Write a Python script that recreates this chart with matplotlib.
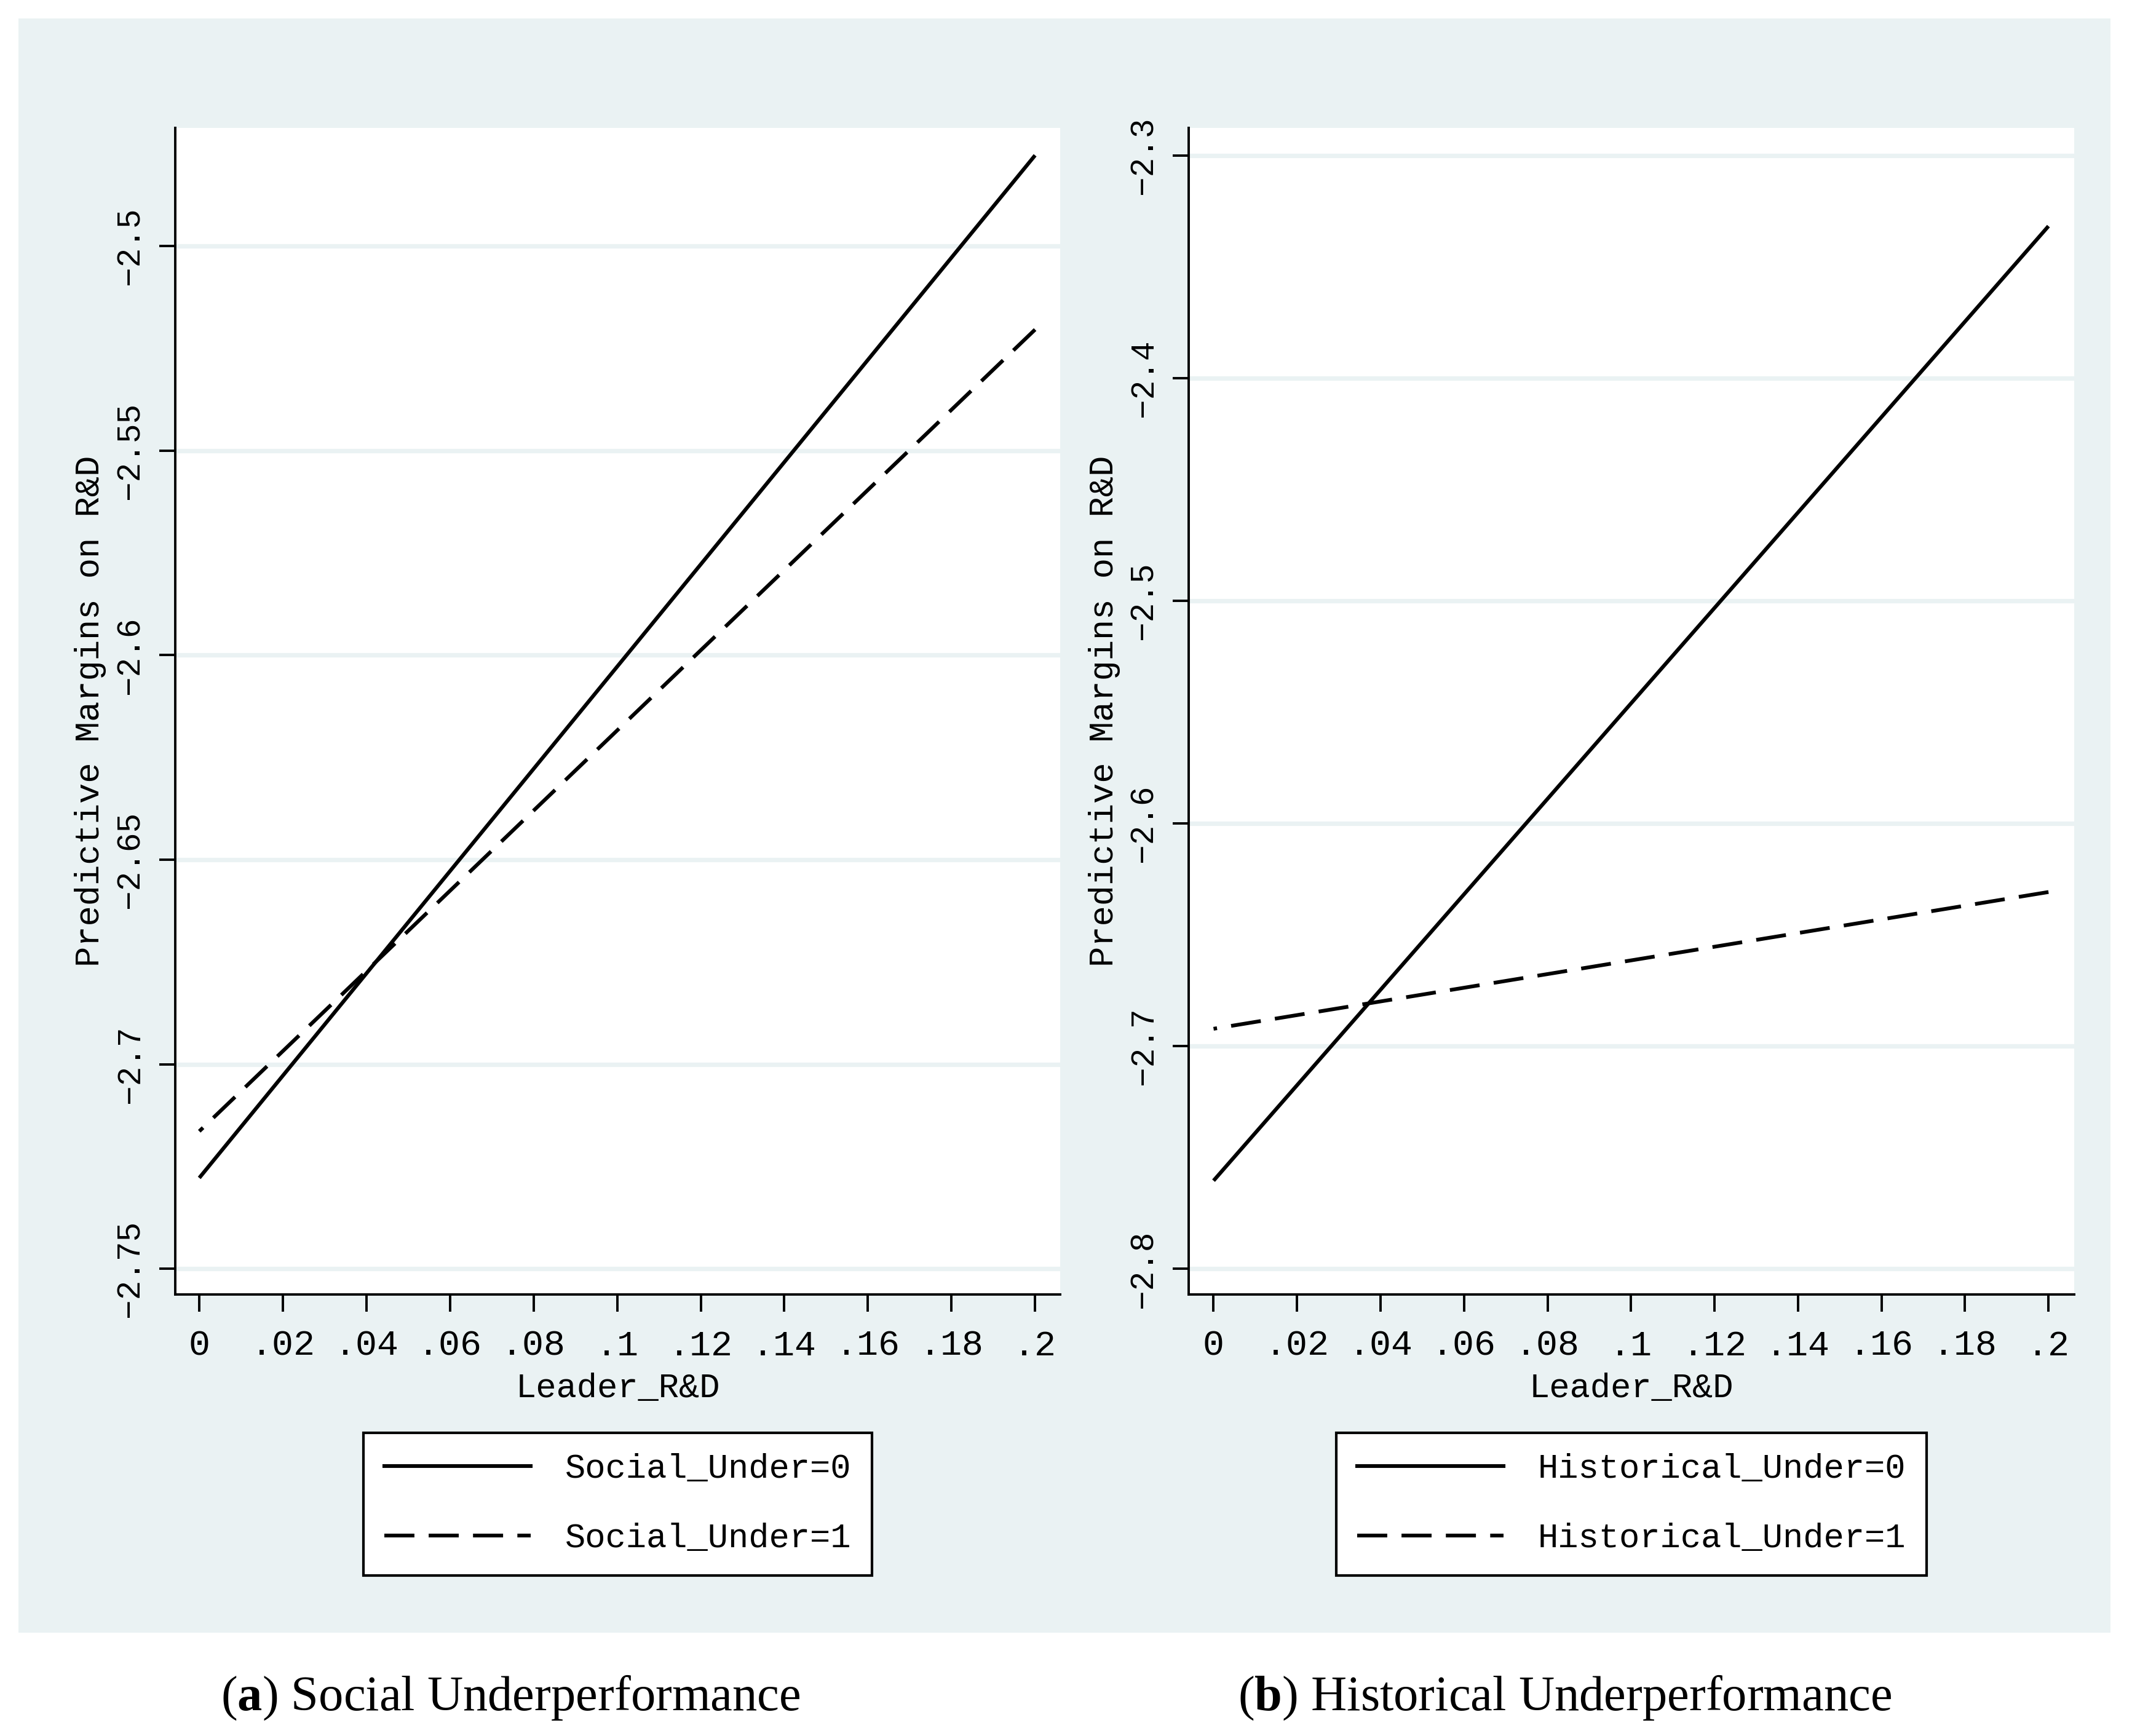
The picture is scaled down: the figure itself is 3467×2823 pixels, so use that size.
import matplotlib
matplotlib.use("Agg")
import matplotlib.pyplot as plt
from matplotlib.patches import Rectangle
from matplotlib.lines import Line2D

# --- data ---
x_pts = [0.0, 0.2]
social_under0 = [-2.7278, -2.4778]
social_under1 = [-2.7164, -2.5204]
hist_under0 = [-2.7604, -2.3318]
hist_under1 = [-2.6922, -2.6308]

x_ticks = [0, .02, .04, .06, .08, .1, .12, .14, .16, .18, .2]
x_ticklabels = ["0", ".02", ".04", ".06", ".08", ".1", ".12", ".14", ".16", ".18", ".2"]
yticks_a = [-2.75, -2.7, -2.65, -2.6, -2.55, -2.5]
yticks_b = [-2.8, -2.7, -2.6, -2.5, -2.4, -2.3]

W, H = 3467, 2823
DPI = 200
BG = "#EAF2F3"
MONO = ["Liberation Mono", "DejaVu Sans Mono"]
LW = 2.2
DASH = (8, 3.8)

plt.rcParams["mathtext.fontset"] = "custom"
plt.rcParams["mathtext.rm"] = "Liberation Serif"
plt.rcParams["mathtext.bf"] = "Liberation Serif:bold"

fig = plt.figure(figsize=(W / DPI, H / DPI), dpi=DPI)
fig.patch.set_facecolor("white")

# light blue graph region (behind everything)
fig.patches.append(Rectangle((30 / W, 1 - 2655 / H), (3432 - 30) / W, (2655 - 30) / H,
                             transform=fig.transFigure, facecolor=BG, edgecolor="none", zorder=-10))


def px_axes(x0, x1, ytop, ybot):
    return fig.add_axes([x0 / W, 1 - ybot / H, (x1 - x0) / W, (ybot - ytop) / H])


def style_panel(ax, yticks, ylim, xlim, ylab_x):
    ax.set_facecolor("white")
    ax.set_xlim(*xlim)
    ax.set_ylim(*ylim)
    for s in ["top", "right"]:
        ax.spines[s].set_visible(False)
    for s in ["left", "bottom"]:
        ax.spines[s].set_linewidth(1.4)
        ax.spines[s].set_color("black")
    ax.set_axisbelow(True)
    ax.yaxis.grid(True, color=BG, lw=2.6)
    ax.xaxis.grid(False)
    ax.set_xticks(x_ticks, x_ticklabels, family=MONO, fontsize=21)
    ylabels = ["\u2212" + f"{abs(v):g}" for v in yticks]
    ax.set_yticks(yticks, ylabels, family=MONO, fontsize=19, rotation=90, va="center")
    ax.tick_params(axis="x", length=10, width=1.4, pad=10.4)
    ax.tick_params(axis="y", length=9.4, width=1.4, pad=7.9)
    ax.set_xlabel("Leader_R&D", family=MONO, fontsize=20, va="center")
    ax.xaxis.set_label_coords(0.5, -0.0807)
    ax.set_ylabel("Predictive Margins on R&D", family=MONO, fontsize=20, va="center")
    ax.yaxis.set_label_coords(ylab_x, 0.5)


def add_legend(ax, labels, cx):
    handles = [Line2D([], [], color="black", lw=LW),
               Line2D([], [], color="black", lw=LW, dashes=DASH)]
    leg = ax.legend(handles, labels, loc="upper center", bbox_to_anchor=(cx / W, 1 - 2330 / H),
                    bbox_transform=fig.transFigure, borderaxespad=0, fancybox=False,
                    framealpha=1, edgecolor="black", prop={"family": MONO, "size": 20},
                    handlelength=4.3, handletextpad=1.0, labelspacing=1.1, borderpad=0.6)
    leg.get_frame().set_linewidth(1.5)


def draw_lines(ax, ys_solid, ys_dash):
    ax.plot(x_pts, ys_solid, color="black", lw=LW, solid_capstyle="butt")
    # dash pattern starts from the right-hand end, as in the original
    ax.plot(x_pts[::-1], ys_dash[::-1], color="black", lw=LW, dashes=DASH)


# --- (a) Social underperformance ---
ax1 = px_axes(285, 1724, 208, 2105)
draw_lines(ax1, social_under0, social_under1)
style_panel(ax1, yticks_a, (-2.7563, -2.4711), (-0.00575, 0.206), -0.0959)
add_legend(ax1, ["Social_Under=0", "Social_Under=1"], (285 + 1724) / 2)

# --- (b) Historical underperformance ---
ax2 = px_axes(1933, 3373, 208, 2105)
draw_lines(ax2, hist_under0, hist_under1)
style_panel(ax2, yticks_b, (-2.8115, -2.2877), (-0.00596, 0.20616), -0.0951)
add_legend(ax2, ["Historical_Under=0", "Historical_Under=1"], (1933 + 3373) / 2)

# captions
fig.text(830 / W, 1 - 2781 / H, r"($\mathbf{a}$) Social Underperformance",
         ha="center", va="baseline", fontsize=29, family="Liberation Serif")
fig.text(2545 / W, 1 - 2781 / H, r"($\mathbf{b}$) Historical Underperformance",
         ha="center", va="baseline", fontsize=29, family="Liberation Serif")

fig.savefig("out.png", dpi=DPI)
